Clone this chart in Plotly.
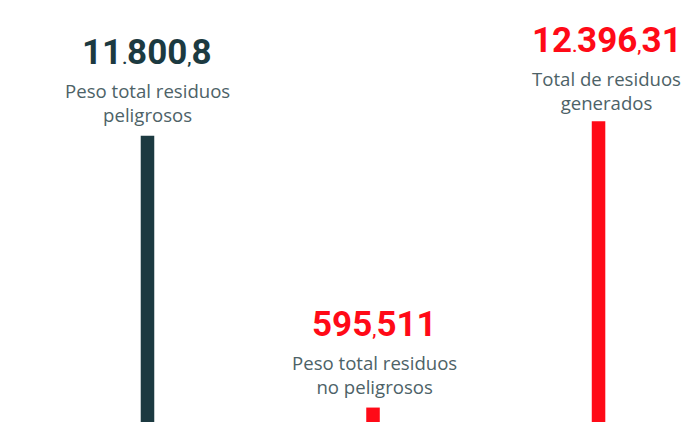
import plotly.graph_objects as go

# Residuos generados (toneladas)
categorias = ["Peso total residuos<br>peligrosos",
              "Peso total residuos<br>no peligrosos",
              "Total de residuos<br>generados"]
valores = [11800.8, 595.511, 12396.31]
etiquetas_valor = ["11.800,8", "595,511", "12.396,31"]
colores = ["#1c3a41", "#ff0a17", "#ff0a17"]

TEAL_GRIS = "#4d6267"
posiciones = list(range(len(valores)))


def formato_numero(texto):
    # los separadores de miles/decimales se muestran más pequeños
    out = ""
    for ch in texto:
        if ch in ".,":
            out += f"<span style='font-size:17px'>{ch}</span>"
        else:
            out += ch
    return out


fig = go.Figure(
    go.Bar(
        x=posiciones,
        y=valores,
        width=0.06,
        marker=dict(color=colores, line=dict(width=0)),
        hoverinfo="skip",
    )
)

desplaz_x = [0, 1, 8]
desplaz_y = [0, 0, -3]
for xi, v, cat, lab, col, dx, dy in zip(posiciones, valores, categorias,
                                         etiquetas_valor, colores,
                                         desplaz_x, desplaz_y):
    fig.add_annotation(
        x=xi, y=v, xref="x", yref="y",
        text=cat, showarrow=False,
        xanchor="center", yanchor="bottom",
        xshift=dx, yshift=7 + dy,
        font=dict(family="Open Sans", size=18.6, color=TEAL_GRIS),
    )
    fig.add_annotation(
        x=xi, y=v, xref="x", yref="y",
        text="<b>" + formato_numero(lab) + "</b>", showarrow=False,
        xanchor="center", yanchor="bottom",
        xshift=dx, yshift=61 + dy,
        font=dict(family="Roboto", size=35, color=col),
    )

fig.update_layout(
    width=691, height=422,
    margin=dict(l=0, r=0, t=0, b=0),
    paper_bgcolor="white", plot_bgcolor="white",
    showlegend=False,
    xaxis=dict(range=[-0.654, 2.41], visible=False, fixedrange=True),
    yaxis=dict(range=[0, 17400], visible=False, fixedrange=True),
)

fig.write_html("out.html", config={"displayModeBar": False})
